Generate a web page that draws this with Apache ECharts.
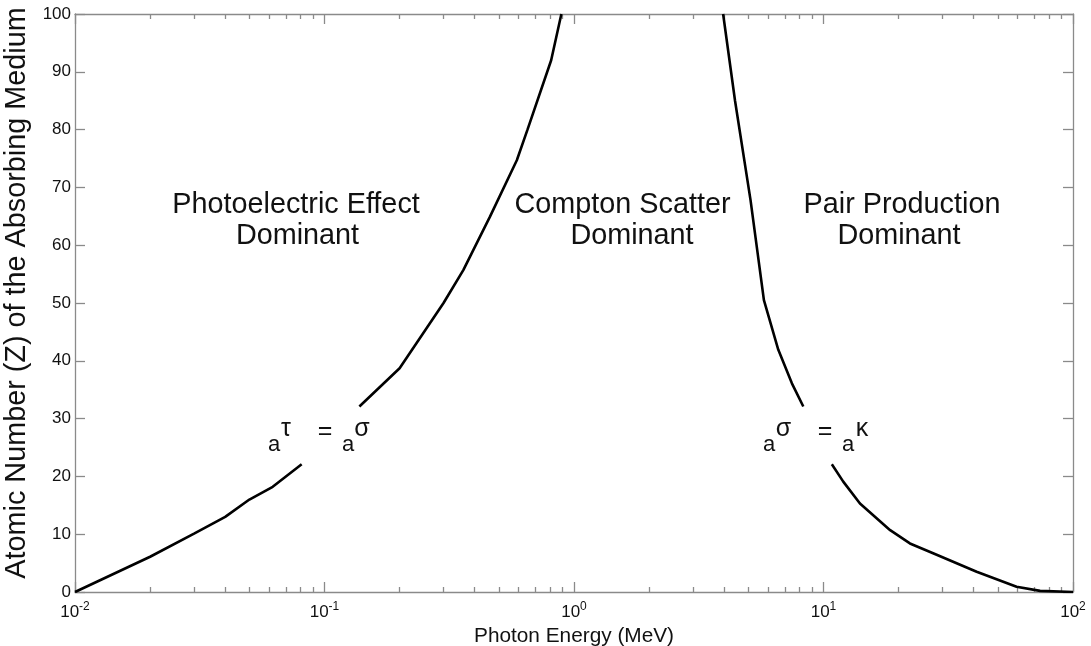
<!DOCTYPE html>
<html>
<head>
<meta charset="utf-8">
<script src="https://cdn.jsdelivr.net/npm/echarts@6/dist/echarts.min.js"></script>
<style>
html,body{margin:0;padding:0;background:#fff;}
#chart{width:1091px;height:646px;}
</style>
</head>
<body>
<div id="chart"></div>
<script>
// ---- data ----
// photoelectric / Compton boundary (lower and upper parts, gap for the label)
const photoLowE  = [0.01, 0.02, 0.03, 0.04, 0.05, 0.062, 0.081];
const photoLowZ  = [0, 6.1, 10.1, 13, 16, 18.2, 22.1];
const photoHighE = [0.138, 0.2, 0.3, 0.36, 0.46, 0.59, 0.65, 0.81, 0.89];
const photoHighZ = [32.1, 38.7, 50, 55.7, 64.9, 74.7, 79.9, 92, 100];
// Compton / pair production boundary
const pairHighE = [3.96, 4.42, 5.1, 5.77, 6.59, 7.47, 8.3];
const pairHighZ = [100, 85, 67.8, 50.5, 41.9, 36.1, 32.1];
const pairLowE  = [10.8, 12.0, 14.0, 18.5, 22.2, 27.5, 41.1, 59.4, 73.8, 100];
const pairLowZ  = [22.1, 19.1, 15.3, 10.7, 8.4, 6.7, 3.5, 0.9, 0.2, 0];

// ---- axis ticks ----
const xTickValues = [0.01, 0.1, 1, 10, 100];
const xTickExponents = ['-2', '-1', '0', '1', '2'];
const yTickLabels = ['0','10','20','30','40','50','60','70','80','90','100'];
const xMinorValues = [];
[0.01, 0.1, 1, 10].forEach(function (d) {
  for (let k = 2; k <= 9; k++) xMinorValues.push(d * k);
});

const FONT = "'Liberation Sans', Arial, Helvetica, sans-serif";
const AXIS_COLOR = '#8a8a8a';
const BIG = 28.8;

function pairs(xs, ys) { return xs.map(function (x, i) { return [x, ys[i]]; }); }

function xAxisDef(pos, major) {
  const a = {
    type: 'log', logBase: 10, position: pos, min: 0.01, max: 100,
    gridIndex: 0,
    axisLine: { show: major, lineStyle: { color: AXIS_COLOR, width: 1.3 } },
    axisTick: { show: true, inside: true, length: major ? 10 : 5,
      customValues: major ? xTickValues : xMinorValues,
      lineStyle: { color: AXIS_COLOR, width: 1.3 } },
    axisLabel: { show: false },
    splitLine: { show: false },
    minorTick: { show: false }
  };
  if (major && pos === 'bottom') {
    a.axisLabel = {
      show: true, margin: 9, customValues: xTickValues,
      formatter: function (v) {
        let idx = 0;
        for (let i = 0; i < xTickValues.length; i++) {
          if (Math.abs(Math.log10(v) - Math.log10(xTickValues[i])) < 1e-6) idx = i;
        }
        return '{b|10}{s|' + xTickExponents[idx] + '}';
      },
      rich: {
        b: { fontSize: 17, fontFamily: FONT, color: '#111', lineHeight: 22 },
        s: { fontSize: 12, fontFamily: FONT, color: '#111', lineHeight: 12, verticalAlign: 'top' }
      }
    };
    a.name = 'Photon Energy (MeV)';
    a.nameLocation = 'middle';
    a.nameGap = 29;
    a.nameTextStyle = { fontSize: 20.8, fontFamily: FONT, color: '#111' };
  }
  return a;
}

function yAxisDef(pos) {
  const a = {
    type: 'value', position: pos, min: 0, max: 100, interval: 10,
    axisLine: { show: true, lineStyle: { color: AXIS_COLOR, width: 1.3 } },
    axisTick: { show: true, inside: true, length: 10, lineStyle: { color: AXIS_COLOR, width: 1.3 } },
    axisLabel: { show: false },
    splitLine: { show: false }
  };
  if (pos === 'left') {
    a.axisLabel = {
      show: true, margin: 4, fontSize: 17, fontFamily: FONT, color: '#111',
      formatter: function (v) { return yTickLabels[Math.round(v / 10)]; }
    };
    a.name = 'Atomic Number (Z) of the Absorbing Medium';
    a.nameLocation = 'middle';
    a.nameRotate = 90;
    a.nameGap = 32;
    a.nameTextStyle = { fontSize: BIG, fontFamily: FONT, color: '#111', padding: [0, 0, 0, 20] };
  }
  return a;
}

function lineSeries(data) {
  return {
    type: 'line', xAxisIndex: 0, yAxisIndex: 0, data: data,
    showSymbol: false, symbol: 'none', smooth: false, silent: true,
    lineStyle: { color: '#000', width: 2.6 }, z: 3
  };
}

function txt(s, x, y, size) {
  return {
    type: 'text', x: x, y: y, silent: true, z: 10,
    style: {
      text: s, fill: '#111', fontSize: size, fontFamily: FONT,
      font: size + 'px ' + FONT,
      textAlign: 'center', textVerticalAlign: 'middle',
      align: 'center', verticalAlign: 'middle'
    }
  };
}

const chart = echarts.init(document.getElementById('chart'), null, { renderer: 'canvas' });
chart.setOption({
  animation: false,
  backgroundColor: '#fff',
  grid: { left: 75, right: 18, top: 14, bottom: 54, containLabel: false, outerBoundsMode: 'none' },
  xAxis: [xAxisDef('bottom', true), xAxisDef('bottom', false), xAxisDef('top', true), xAxisDef('top', false)],
  yAxis: [yAxisDef('left'), yAxisDef('right')],
  series: [
    lineSeries(pairs(photoLowE, photoLowZ)),
    lineSeries(pairs(photoHighE, photoHighZ)),
    lineSeries(pairs(pairHighE, pairHighZ)),
    lineSeries(pairs(pairLowE, pairLowZ))
  ],
  graphic: [
    txt('Photoelectric Effect', 296, 205, BIG),
    txt('Dominant', 297.5, 236, BIG),
    txt('Compton Scatter', 622.5, 205, BIG),
    txt('Dominant', 632, 236, BIG),
    txt('Pair Production', 902, 205, BIG),
    txt('Dominant', 899, 236, BIG),
    txt('a', 274, 445, 22),
    txt('τ', 286, 429, 25),
    txt('=', 325, 432, 25),
    txt('a', 348, 445, 22),
    txt('σ', 362, 429, 25),
    txt('a', 769, 445, 22),
    txt('σ', 783.5, 429, 25),
    txt('=', 825, 432, 25),
    txt('a', 848, 445, 22),
    txt('κ', 862, 429, 25)
  ]
});
</script>
</body>
</html>
